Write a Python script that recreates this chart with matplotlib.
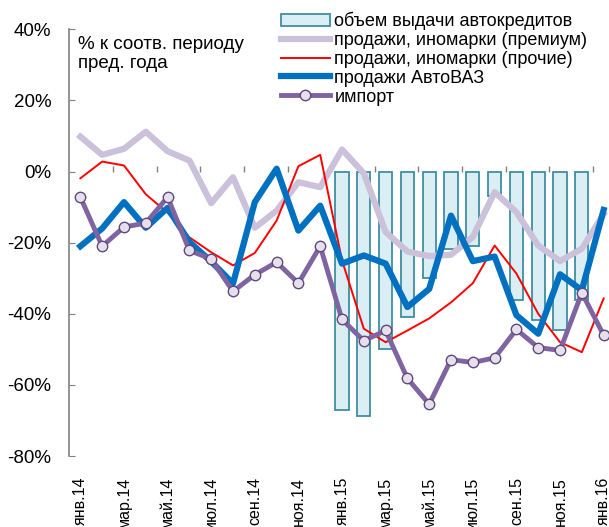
import numpy as np
import matplotlib
matplotlib.use("Agg")
import matplotlib.pyplot as plt

plt.rcParams['font.family'] = ['Liberation Sans', 'DejaVu Sans']

months = ['янв.14', 'фев.14', 'мар.14', 'апр.14', 'май.14', 'июн.14', 'июл.14', 'авг.14',
          'сен.14', 'окт.14', 'ноя.14', 'дек.14', 'янв.15', 'фев.15', 'мар.15', 'апр.15',
          'май.15', 'июн.15', 'июл.15', 'авг.15', 'сен.15', 'окт.15', 'ноя.15', 'дек.15',
          'янв.16']

# объем выдачи автокредитов (янв.15 - дек.15)
credit_months = months[12:24]
credit = [-67, -68.7, -50, -41, -30, -21.7, -21, -7, -36.2, -41.7, -44.5, -36]

premium = [9.8, 4.7, 6.4, 11.2, 5.7, 3.1, -8.9, -1.6, -15.8, -11, -3, -4.4, 6.2,
           -0.5, -17, -22.5, -23.8, -23.4, -18.4, -5.8, -11.4, -20.8, -25.2, -21.7, -12]
other = [-1.9, 2.8, 1.7, -6.4, -11.6, -18.5, -22.7, -26.4, -22.9, -13.8, 1.5, 4.7, -25,
         -44.2, -48, -44.7, -41.3, -36.8, -31.4, -20.8, -28.7, -40, -48, -50.8, -35.7]
avtovaz = [-21, -16, -8.6, -15.8, -10.2, -19.8, -25.3, -31.5, -8.6, 0.8, -16.6, -9.6, -25.9,
           -23.6, -25.9, -38.1, -33, -12.4, -25.2, -23.9, -40.4, -45.6, -28.9, -33.4, -10.8]
imports = [-7.2, -21, -15.6, -14.5, -7.2, -22.2, -24.6, -33.7, -29, -25.5, -31.4, -21, -41.6,
           -47.6, -44.7, -58.2, -65.4, -52.9, -53.7, -52.4, -44.4, -49.5, -50.3, -34.1, -46]

x = np.arange(len(months))
xb = [months.index(m) for m in credit_months]

fig = plt.figure(figsize=(6.09, 5.27), dpi=100)
ax = fig.add_axes([0.1141, 0.1347, 0.895, 0.8097])

b = ax.bar(xb, credit, width=0.6, color='#DAEEF3', edgecolor='#3D8FA3', linewidth=1.3,
           label='объем выдачи автокредитов', zorder=2)
l1, = ax.plot(x, premium, color='#CCC1DA', lw=4.5, label='продажи, иномарки (премиум)', zorder=3)
l2, = ax.plot(x, other, color='#FF0000', lw=1.4, label='продажи, иномарки (прочие)', zorder=4)
l3, = ax.plot(x, avtovaz, color='#0070C0', lw=4.5, label='продажи АвтоВАЗ', zorder=5)
l4, = ax.plot(x, imports, color='#8064A2', lw=3.5, marker='o', ms=7.5, mfc='#E6E0EC',
              mec='#5F497A', mew=1, label='импорт', zorder=6)

ax.set_xlim(-0.5, 24.5)
ax.set_ylim(-80, 40)
ax.set_yticks(np.arange(-80, 41, 20))
ax.set_yticklabels([f'{v}%' for v in range(-80, 41, 20)])
ax.tick_params(axis='y', direction='in', length=4, color='#808080', labelsize=13.5, pad=13)

ax.set_xticks(x[::2])
ax.set_xticklabels(months[::2], rotation=90, fontsize=11.5)
ax.tick_params(axis='x', length=0, pad=15)

for s in ['top', 'right', 'bottom']:
    ax.spines[s].set_visible(False)
ax.spines['left'].set_color('#808080')
ax.spines['left'].set_linewidth(1.2)

# horizontal axis crossing at zero with ticks between every two months
zero = ax.secondary_xaxis(2 / 3)
zero.set_xticks(np.arange(1.5, 24, 2))
zero.set_xticklabels([])
zero.tick_params(axis='x', direction='out', length=4, color='#808080', width=1)
zero.spines['bottom'].set_color('#A0A0A0')
zero.spines['bottom'].set_linewidth(1.2)
zero.spines['top'].set_visible(False)

ax.text(0.016, 0.985, '% к соотв. периоду\nпред. года', transform=ax.transAxes,
        fontsize=13.5, va='top', ha='left', linespacing=1.2)

fig.legend(handles=[b, l1, l2, l3, l4], loc='upper left',
           bbox_to_anchor=(281 / 609, 1 - 12 / 527), frameon=False,
           fontsize=13, handlelength=2.7, handletextpad=0.25, labelspacing=0.1,
           borderpad=0, borderaxespad=0)

fig.savefig('out.png', dpi=100)
